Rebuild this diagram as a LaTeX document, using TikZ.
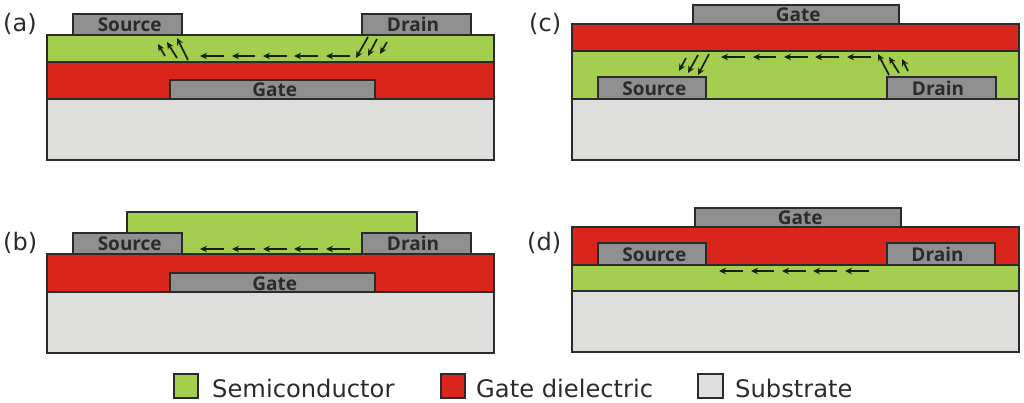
\documentclass[tikz,border=0pt]{standalone}
\usepackage{fontspec}
\setmainfont{DejaVu Sans}
\newfontfamily\padfont{Open Sans}[Scale=1]
\usetikzlibrary{arrows.meta}
\definecolor{semi}{HTML}{A4CE4E}
\definecolor{diel}{HTML}{DA251C}
\definecolor{subs}{HTML}{DEDEDC}
\definecolor{metal}{HTML}{8F8F8F}
\definecolor{edge}{HTML}{2B2B2B}
\definecolor{ink}{HTML}{2B2B2B}
\newcommand{\tSrc}{\hspace*{4.5pt}Source}
\newcommand{\tGat}{\hspace*{4.5pt}Gate}
\newcommand{\tDrn}{Drain\hspace*{7pt}}
\tikzset{
  layer/.style={draw=edge,line width=2.2pt,rectangle,inner sep=0pt,text=ink,
    font=\padfont\bfseries\fontsize{19}{19}\selectfont,text height=15pt,text depth=0pt},
  flow/.style={draw=black!85!semi,line width=1.7pt,-{Stealth[length=7pt,width=6.5pt]}},
  panel/.style={anchor=base west,inner sep=0pt,text=ink,font=\fontsize{24}{24}\selectfont},
  legend/.style={anchor=base west,inner sep=0pt,text=ink,font=\fontsize{24.2}{25}\selectfont}
}
% name, fill, x0, y0, x1, y1, text
\newcommand{\lay}[7]{%
  \pgfmathsetmacro{\lw}{#5-#3}\pgfmathsetmacro{\lh}{#6-#4}%
  \pgfmathsetmacro{\lx}{(#5+#3)/2}\pgfmathsetmacro{\ly}{(#6+#4)/2}%
  \node[layer,fill=#2,minimum width=\lw pt,minimum height=\lh pt] (#1) at (\lx,\ly) {#7};}
% name, x0, y0, x1, y1
\newcommand{\flw}[5]{%
  \coordinate (#1s) at (#2,#3);\coordinate (#1e) at (#4,#5);
  \draw[flow] (#1s) -- (#1e);}
% prefix, y, x offset
\newcommand{\channel}[3]{%
  \flw{#1h1}{#3+350}{#2}{#3+326}{#2}\flw{#1h2}{#3+318}{#2}{#3+294}{#2}%
  \flw{#1h3}{#3+287}{#2}{#3+263}{#2}\flw{#1h4}{#3+255}{#2}{#3+232}{#2}%
  \flw{#1h5}{#3+224}{#2}{#3+200}{#2}}
\begin{document}
\begin{tikzpicture}[x=1pt,y=-1pt]
\useasboundingbox (0,0) rectangle (1024,403);
% (a)
\node[panel] (la) at (3,32) {(a)};
\lay{asub}{subs}{47}{99}{494}{160}{}
\lay{adie}{diel}{47}{62}{494}{99}{}
\lay{asem}{semi}{47}{35}{494}{62}{}
\lay{asrc}{metal}{73}{14}{182}{35}{\tSrc}
\lay{adrn}{metal}{362}{14}{471}{35}{\tDrn}
\lay{agat}{metal}{170}{80}{375}{99}{\tGat}
\channel{a}{56}{0}
\flw{as1}{188}{60}{177}{38}\flw{as2}{177}{58}{167}{42}\flw{as3}{165}{56}{158}{44}
\flw{ad1}{368}{37}{356}{58}\flw{ad2}{377}{39}{368}{56}\flw{ad3}{387}{42}{380}{54}
% (b)
\node[panel] (lb) at (3,251) {(b)};
\lay{bsub}{subs}{47}{292}{494}{353}{}
\lay{bsem}{semi}{127}{212}{417}{254}{}
\lay{bdie}{diel}{47}{254}{494}{292}{}
\lay{bsrc}{metal}{73}{233}{182}{254}{\tSrc}
\lay{bdrn}{metal}{362}{233}{471}{254}{\tDrn}
\lay{bgat}{metal}{170}{273}{375}{292}{\tGat}
\channel{b}{249}{0}
% (c)
\node[panel] (lc) at (529,32) {(c)};
\lay{csub}{subs}{572}{99}{1019}{160}{}
\lay{csem}{semi}{572}{51}{1019}{99}{}
\lay{cdie}{diel}{572}{24}{1019}{51}{}
\lay{csrc}{metal}{598}{77}{706}{99}{\tSrc}
\lay{cdrn}{metal}{887}{77}{996}{99}{\tDrn}
\lay{cgat}{metal}{693}{5}{899}{24}{\tGat}
\channel{c}{57}{521}
\flw{cs1}{709}{54}{698}{75}\flw{cs2}{698}{55}{688}{73}\flw{cs3}{686}{58}{679}{71}
\flw{cd1}{889}{75}{878}{54}\flw{cd2}{899}{73}{889}{57}\flw{cd3}{908}{71}{902}{59}
% (d)
\node[panel] (ld) at (527,251) {(d)};
\lay{dsub}{subs}{572}{291}{1019}{352}{}
\lay{dsem}{semi}{572}{265}{1019}{291}{}
\lay{ddie}{diel}{572}{227}{1019}{265}{}
\lay{dsrc}{metal}{598}{243}{706}{265}{\tSrc}
\lay{ddrn}{metal}{887}{243}{995}{265}{\tDrn}
\lay{dgat}{metal}{695}{208}{901}{227}{\tGat}
\channel{d}{271}{519}
% legend
\lay{k1}{semi}{174}{374}{198}{398}{}
\node[legend] (t1) at (212,397) {Semiconductor};
\lay{k2}{diel}{441}{374}{465}{398}{}
\node[legend] (t2) at (476,397) {Gate dielectric};
\lay{k3}{subs}{698}{374}{723}{398}{}
\node[legend] (t3) at (735,397) {Substrate};
\end{tikzpicture}
\end{document}
